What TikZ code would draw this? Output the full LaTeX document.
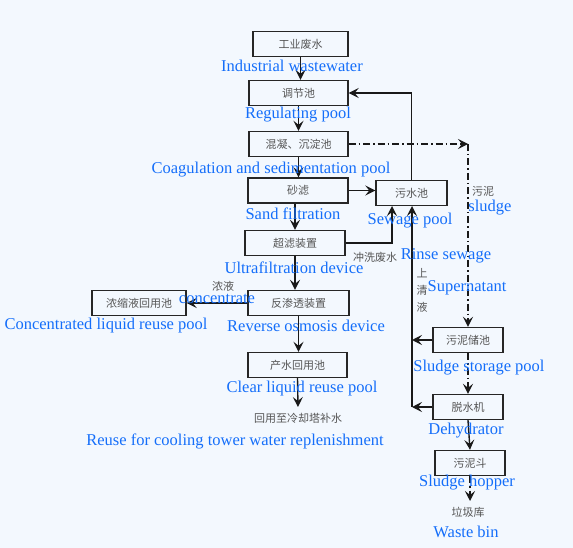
\documentclass[tikz,border=0pt]{standalone}
\usepackage{fontspec}
\setmainfont{Liberation Serif}
\newfontfamily\cjk{Noto Sans CJK SC}
\usetikzlibrary{arrows.meta}
\definecolor{bg}{RGB}{243,248,254}
\definecolor{entext}{RGB}{20,110,250}
\definecolor{zhtext}{RGB}{85,85,85}
\begin{document}
\begin{tikzpicture}[x=1pt,y=-1pt,
  box/.style={draw=black!85, line width=1.4pt, fill=bg, minimum height=25pt, inner sep=0pt,
    font=\cjk\fontsize{11}{12}\selectfont, text=zhtext},
  en/.style={text=entext, font=\fontsize{16.5}{17}\selectfont, inner sep=0pt},
  zhl/.style={text=zhtext, font=\cjk\fontsize{11}{12}\selectfont, inner sep=0pt},
  arr/.style={-{Stealth[length=10pt,width=10pt,inset=4pt]}, line width=1.4pt, draw=black!90},
  dd/.style={arr, dash pattern=on 7pt off 3pt on 1.5pt off 3pt}]
\fill[bg] (0,0) rectangle (573,548);
\useasboundingbox (0,0) rectangle (573,548);
% boxes
\node[box, minimum width=95pt] (iw) at (300.5,44) {工业废水};
\node[box, minimum width=99pt] (reg) at (298.5,93) {调节池};
\node[box, minimum width=99pt] (coag) at (298.5,144) {混凝、沉淀池};
\node[box, minimum width=100pt] (sand) at (298,190.5) {砂滤};
\node[box, minimum width=71pt] (sew) at (411.5,193) {污水池};
\node[box, minimum width=100pt] (uf) at (295,243) {超滤装置};
\node[box, minimum width=94pt] (conc) at (139,303) {浓缩液回用池};
\node[box, minimum width=101pt] (ro) at (298.5,303) {反渗透装置};
\node[box, minimum width=99pt] (clear) at (297.5,365) {产水回用池};
\node[box, minimum width=70pt] (sst) at (468,340) {污泥储池};
\node[box, minimum width=70pt] (deh) at (468,407) {脱水机};
\node[box, minimum width=70pt] (hop) at (470,463) {污泥斗};
% text destinations
\node[zhl] (cool) at (298,418) {回用至冷却塔补水};
\node[zhl] (bin) at (468,512) {垃圾库};
% coordinates
\coordinate (coolin) at (298,407);
\coordinate (binin) at (470,501);
\coordinate (cornerS) at (468,144);
\coordinate (ret) at (412,407);
\coordinate (ret2) at (412,340);
\coordinate (ufin) at (392,206);
\coordinate (retin) at (412,206);
% main flow
\draw[arr] (iw.south) -- (iw.south |- reg.north);
\draw[arr] (reg.south) -- (reg.south |- coag.north);
\draw[arr] (coag.south) -- (coag.south |- sand.north);
\draw[arr] (sand.south -| uf.north) -- (uf.north);
\draw[arr] (uf.south) -- (uf.south |- ro.north);
\draw[arr] (ro.south) -- (ro.south |- clear.north);
\draw[arr] (clear.south) -- (coolin);
\draw[arr] (ro.west) -- (conc.east);
% sewage pool
\draw[arr] (sand.east) -- (sand.east -| sew.west);
\draw[arr] (sew.north) |- (reg.east);
\draw[arr] (uf.east) -| (ufin);
\draw[arr] (ret) -- (retin);
\draw[arr] (sst.west) -- (ret2);
\draw[arr] (deh.west) -- (ret);
% sludge
\draw[dd] (coag.east) -- (cornerS);
\draw[dd] (cornerS) -- (sst.north);
\draw[dd] (sst.south) -- (deh.north);
\draw[arr] (deh.south) -- (hop.north);
\draw[dd] (hop.south) -- (binin);
% chinese labels
\node[zhl] (l1) at (375,257) {冲洗废水};
\node[zhl, align=center] (l2) at (422,290) {上\\[5pt]清\\[5pt]液};
\node[zhl] (l3) at (483,191) {污泥};
\node[zhl] (l4) at (223,286) {浓液};
% english labels
\node[en] (e1) at (292,66) {Industrial wastewater};
\node[en] (e2) at (298,115) {Regulating pool};
\node[en] (e3) at (271,170) {Coagulation and sedimentation pool};
\node[en] (e4) at (293,214) {Sand filtration};
\node[en] (e5) at (410,221) {Sewage pool};
\node[en] (e6) at (294,268) {Ultrafiltration device};
\node[en] (e7) at (446,256) {Rinse sewage};
\node[en] (e8) at (467,288) {Supernatant};
\node[en] (e9) at (490,208) {sludge};
\node[en] (e10) at (217,299) {concentrate};
\node[en] (e11) at (106,326) {Concentrated liquid reuse pool};
\node[en] (e12) at (306,326) {Reverse osmosis device};
\node[en] (e13) at (302,389) {Clear liquid reuse pool};
\node[en] (e14) at (235,441) {Reuse for cooling tower water replenishment};
\node[en] (e15) at (479,368) {Sludge storage pool};
\node[en] (e16) at (466,431) {Dehydrator};
\node[en] (e17) at (467,483) {Sludge hopper};
\node[en] (e18) at (466,532) {Waste bin};
\end{tikzpicture}
\end{document}
